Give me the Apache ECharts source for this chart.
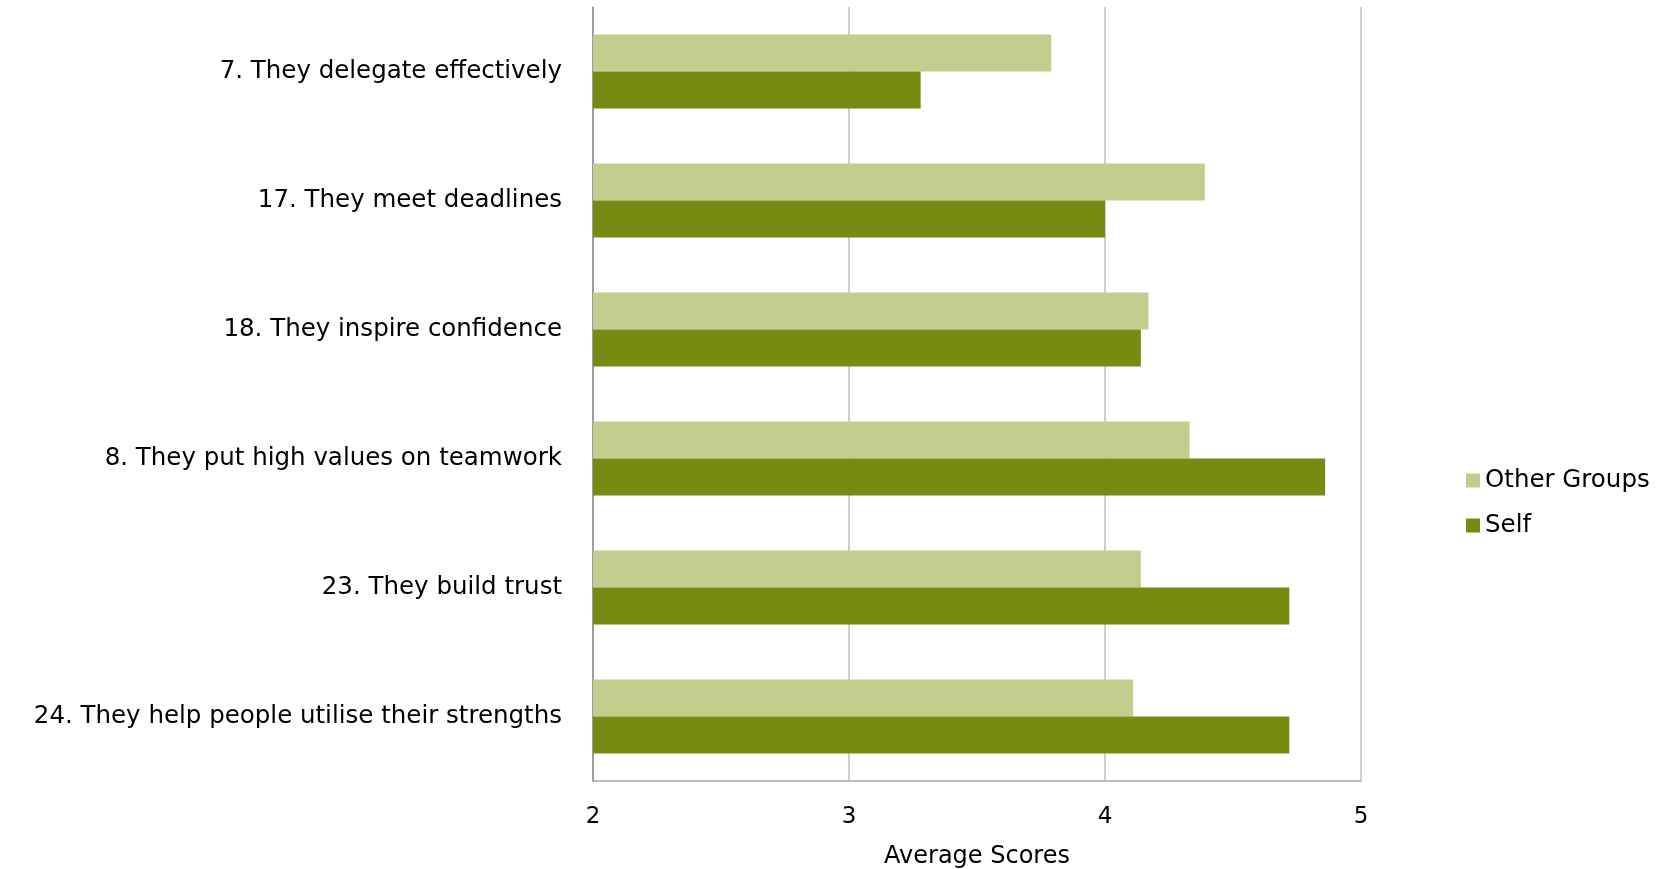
<!DOCTYPE html>
<html>
<head>
<meta charset="utf-8">
<script src="https://cdn.jsdelivr.net/npm/echarts@6/dist/echarts.min.js"></script>
<style>
html,body{margin:0;padding:0;background:#fff;}
#chart{width:1677px;height:869px;}
</style>
</head>
<body>
<div id="chart"></div>
<script>
var categories = [
  "7. They delegate effectively",
  "17. They meet deadlines",
  "18. They inspire confidence",
  "8. They put high values on teamwork",
  "23. They build trust",
  "24. They help people utilise their strengths"
];
var otherGroups = [3.79, 4.39, 4.17, 4.33, 4.14, 4.11];
var self = [3.28, 4.00, 4.14, 4.86, 4.72, 4.72];
var seriesNames = ["Other Groups", "Self"];
var axisName = "Average Scores";

var FONT = "'DejaVu Sans', 'Noto Sans', sans-serif";
var chart = echarts.init(document.getElementById('chart'));
chart.setOption({
  animation: false,
  textStyle: {fontFamily: FONT, color: '#000'},
  grid: {left: 593, top: 7, width: 768, height: 774, containLabel: false, outerBoundsMode: 'none'},
  legend: {
    orient: 'vertical',
    left: 1461, top: 463,
    itemWidth: 14, itemHeight: 14, itemGap: 20,
    icon: 'rect',
    textStyle: {fontSize: 24.5, fontFamily: FONT, color: '#000'},
    data: seriesNames
  },
  xAxis: {
    type: 'value', min: 2, max: 5, interval: 1,
    name: axisName, nameLocation: 'middle', nameGap: 64,
    nameTextStyle: {fontSize: 24, color: '#000', fontFamily: FONT},
    axisLine: {show: true, lineStyle: {color: '#A6A6A6', width: 1.5}},
    axisTick: {show: false},
    axisLabel: {fontSize: 23, color: '#000', margin: 25, fontFamily: FONT},
    splitLine: {show: true, lineStyle: {color: '#BFBFBF', width: 1.5}}
  },
  yAxis: {
    type: 'category', data: categories, inverse: true,
    axisLine: {show: true, lineStyle: {color: '#8C8C8C', width: 1.5}},
    axisTick: {show: false},
    axisLabel: {fontSize: 24.5, color: '#000', margin: 31, fontFamily: FONT}
  },
  series: [
    {name: seriesNames[0], type: 'bar', data: otherGroups, barWidth: 37, barGap: '0%',
     itemStyle: {color: '#C4CD8D'}},
    {name: seriesNames[1], type: 'bar', data: self, barWidth: 37, barGap: '0%',
     itemStyle: {color: '#778A12'}}
  ]
});
</script>
</body>
</html>
